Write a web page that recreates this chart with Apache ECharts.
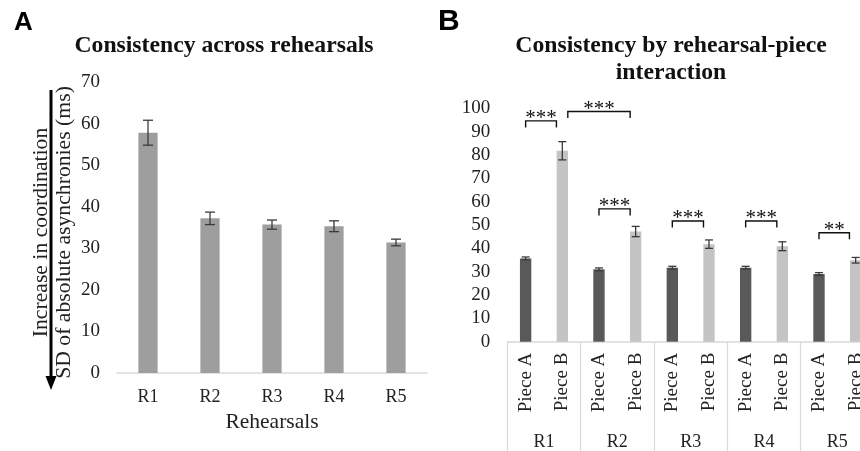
<!DOCTYPE html>
<html>
<head>
<meta charset="utf-8">
<script src="https://cdn.jsdelivr.net/npm/echarts@6/dist/echarts.min.js"></script>
<style>html,body{margin:0;padding:0;background:#fff}#c{width:860px;height:451px}</style>
</head>
<body>
<div id="c"></div>
<script>
// ---- Panel A data ----
const rehearsals = ['R1', 'R2', 'R3', 'R4', 'R5'];
const meanByRehearsal = [57.8, 37.2, 35.7, 35.3, 31.4];
const errByRehearsal = [3.0, 1.5, 1.1, 1.3, 0.8];
const ticksA = { min: 0, max: 70, interval: 10 };

// ---- Panel B data ----
const pieces = ['Piece A', 'Piece B'];
const pieceA = [35.7, 31.0, 31.7, 31.7, 29.0];
const pieceAErr = [0.6, 0.6, 0.6, 0.6, 0.6];
const pieceB = [81.8, 47.2, 41.8, 40.9, 34.9];
const pieceBErr = [3.9, 2.2, 1.8, 1.9, 1.2];
const ticksB = { min: 0, max: 100, interval: 10 };

// significance brackets: [start index, start offset, end index, end offset, height]
const bracketSpans = [
  [0, 0, 1, -0.16, 94.6],
  [1, 0.15, 3, -0.15, 98.6],
  [2, 0, 3, -0.15, 56.9],
  [4, 0, 5, -0.15, 51.7],
  [6, 0, 7, -0.15, 51.7],
  [8, 0, 9, -0.17, 46.7]
];
const bracketLabels = ['***', '***', '***', '***', '***', '**'];

// ---- derived ----
const subCats = [];
const dataA = [], dataB = [], errB = [];
rehearsals.forEach((r, i) => {
  subCats.push(pieces[0] + '|' + r, pieces[1] + '|' + r);
  dataA.push(pieceA[i], '-');
  dataB.push('-', pieceB[i]);
  errB.push([2 * i, pieceA[i], pieceAErr[i]], [2 * i + 1, pieceB[i], pieceBErr[i]]);
});
const errA = rehearsals.map((r, i) => [i, meanByRehearsal[i], errByRehearsal[i]]);

const SERIF = "'Liberation Serif', 'Times New Roman', serif";
const SANS = "'Liberation Sans', Arial, sans-serif";
const TXT = '#222';
const AXIS = '#d9d9d9';

function errRender(cap) {
  return function (params, api) {
    const i = api.value(0), v = api.value(1), e = api.value(2);
    const hi = api.coord([i, v + e]);
    const lo = api.coord([i, v - e]);
    const x = hi[0];
    const st = { stroke: '#3a3a3a', lineWidth: 1.3 };
    return {
      type: 'group',
      children: [
        { type: 'line', shape: { x1: x, y1: hi[1], x2: x, y2: lo[1] }, style: st },
        { type: 'line', shape: { x1: x - cap, y1: hi[1], x2: x + cap, y2: hi[1] }, style: st },
        { type: 'line', shape: { x1: x - cap, y1: lo[1], x2: x + cap, y2: lo[1] }, style: st }
      ]
    };
  };
}

function bracketRender(params, api) {
  const band = api.size([1, 0])[0];
  const s = api.coord([api.value(0), api.value(4)]);
  const e = api.coord([api.value(2), api.value(4)]);
  const x1 = s[0] + api.value(1) * band;
  const x2 = e[0] + api.value(3) * band;
  const y = s[1];
  const drop = 6.5;
  const st = { stroke: '#111', lineWidth: 1.4, fill: null };
  return {
    type: 'group',
    children: [
      { type: 'polyline', shape: { points: [[x1, y + drop], [x1, y], [x2, y], [x2, y + drop]] }, style: st },
      { type: 'text', x: (x1 + x2) / 2, y: y + 8,
        style: { text: bracketLabels[params.dataIndex], fill: '#111', font: '21px ' + SERIF, align: 'center', verticalAlign: 'bottom' } }
    ]
  };
}

const chart = echarts.init(document.getElementById('c'), null, { renderer: 'canvas' });
chart.setOption({
  backgroundColor: '#fff',
  animation: false,
  title: [
    { text: 'Consistency across rehearsals', left: 224, top: 32, textAlign: 'center', padding: 0,
      textStyle: { fontFamily: SERIF, fontWeight: 'bold', fontSize: 23.7, color: '#111', lineHeight: 27 } },
    { text: 'Consistency by rehearsal-piece\ninteraction', left: 671, top: 32, textAlign: 'center', padding: 0,
      textStyle: { fontFamily: SERIF, fontWeight: 'bold', fontSize: 23.7, color: '#111', lineHeight: 27 } }
  ],
  graphic: [
    { type: 'text', left: 14, top: 10, style: { text: 'A', font: 'bold 26px ' + SANS, fill: '#000' } },
    { type: 'text', left: 438, top: 7, style: { text: 'B', font: 'bold 30px ' + SANS, fill: '#000' } },
    { type: 'line', shape: { x1: 51, y1: 90, x2: 51, y2: 378 }, style: { stroke: '#000', lineWidth: 3 } },
    { type: 'polygon', shape: { points: [[45.5, 376], [56.5, 376], [51, 390]] }, style: { fill: '#000' } }
  ],
  grid: [
    { left: 117, top: 82, width: 310, height: 291, outerBoundsMode: 'none', containLabel: false },
    { left: 507.3, top: 108.3, width: 366.7, height: 233.4, outerBoundsMode: 'none', containLabel: false }
  ],
  xAxis: [
    { type: 'category', gridIndex: 0, data: rehearsals,
      axisLine: { lineStyle: { color: AXIS, width: 1.5 } }, axisTick: { show: false },
      axisLabel: { fontFamily: SERIF, fontSize: 18, color: TXT, margin: 15 },
      name: 'Rehearsals', nameLocation: 'middle', nameGap: 32,
      nameTextStyle: { fontFamily: SERIF, fontSize: 21.5, color: TXT } },
    { type: 'category', gridIndex: 1, data: subCats, position: 'bottom',
      axisLine: { lineStyle: { color: AXIS, width: 1.5 } }, axisTick: { show: false },
      axisLabel: { interval: 0, rotate: 90, fontFamily: SERIF, fontSize: 19, color: TXT, margin: 11,
        formatter: v => v.split('|')[0] } },
    { type: 'category', gridIndex: 1, data: rehearsals, position: 'bottom', offset: 0,
      axisLine: { show: false },
      axisTick: { show: true, interval: 0, length: 120, lineStyle: { color: AXIS, width: 1.2 } },
      axisLabel: { interval: 0, fontFamily: SERIF, fontSize: 18, color: TXT, margin: 92 } }
  ],
  yAxis: [
    { type: 'value', gridIndex: 0, min: ticksA.min, max: ticksA.max, interval: ticksA.interval,
      splitLine: { show: false }, axisLine: { show: false }, axisTick: { show: false },
      axisLabel: { fontFamily: SERIF, fontSize: 19, color: TXT, margin: 17 },
      name: 'Increase in coordination\nSD of absolute asynchronies (ms)', nameLocation: 'middle', nameGap: 41,
      nameTextStyle: { fontFamily: SERIF, fontSize: 21.7, color: TXT, lineHeight: 23, padding: [0, 10, 0, 0] } },
    { type: 'value', gridIndex: 1, min: ticksB.min, max: ticksB.max, interval: ticksB.interval,
      splitLine: { show: false }, axisLine: { show: false }, axisTick: { show: false },
      axisLabel: { fontFamily: SERIF, fontSize: 19, color: TXT, margin: 17 } }
  ],
  series: [
    { type: 'bar', xAxisIndex: 0, yAxisIndex: 0, data: meanByRehearsal, barWidth: '31%',
      itemStyle: { color: '#9e9e9e' } },
    { type: 'custom', xAxisIndex: 0, yAxisIndex: 0, data: errA, renderItem: errRender(5), z: 5 },
    { type: 'bar', name: pieces[0], xAxisIndex: 1, yAxisIndex: 1, data: dataA, stack: 'p', barWidth: '31%',
      itemStyle: { color: '#595959' } },
    { type: 'bar', name: pieces[1], xAxisIndex: 1, yAxisIndex: 1, data: dataB, stack: 'p', barWidth: '31%',
      itemStyle: { color: '#c4c4c4' } },
    { type: 'custom', xAxisIndex: 1, yAxisIndex: 1, data: errB, renderItem: errRender(4), z: 5 },
    { type: 'custom', xAxisIndex: 1, yAxisIndex: 1, data: bracketSpans, renderItem: bracketRender, z: 6, clip: false }
  ]
});
</script>
</body>
</html>
